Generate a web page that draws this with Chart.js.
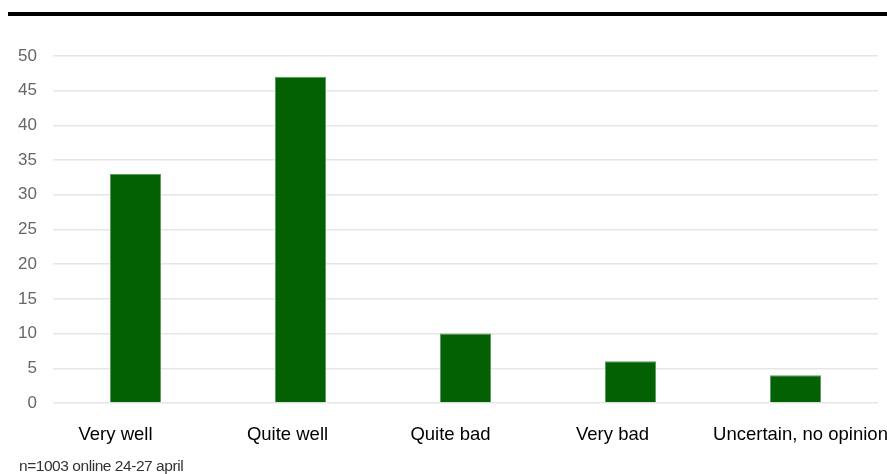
<!DOCTYPE html>
<html>
<head>
<meta charset="utf-8">
<script src="https://cdn.jsdelivr.net/npm/chart.js@4.4.1/dist/chart.umd.min.js"></script>
<style>
  html, body { margin: 0; padding: 0; background: #fff; }
  #wrap { position: relative; width: 887px; height: 474px; overflow: hidden; }
  #topRule { position: absolute; left: 8px; right: 0; top: 12px; height: 4px; background: #000; }
  #note { position: absolute; left: 19px; top: 457px; font: 15.5px "Liberation Sans", Arial, sans-serif; color: #333; letter-spacing: -0.45px; white-space: nowrap; }
  canvas { position: absolute; left: 0; top: 0; }
</style>
</head>
<body>
<div id="wrap">
  <div id="topRule"></div>
  <canvas id="grafico" width="887" height="474"></canvas>
  <div id="note">n=1003 online 24-27 april</div>
</div>
<script>
// Respuestas y porcentajes
const categories = ["Very well", "Quite well", "Quite bad", "Very bad", "Uncertain, no opinion"];
const values = [33, 47, 10, 6, 4];
const yTicks = [0, 5, 10, 15, 20, 25, 30, 35, 40, 45, 50];

// desplazamiento horizontal de cada etiqueta del eje x
const labelShift = [-20, -13, -15, -18, 5];

const xLabels = {
  id: "xLabels",
  afterDraw(chart) {
    const c = chart.ctx;
    const x = chart.scales.x;
    c.save();
    c.font = "18.5px 'Liberation Sans', Arial, sans-serif";
    c.fillStyle = "#000";
    c.textAlign = "center";
    c.textBaseline = "middle";
    categories.forEach((lbl, i) => {
      c.fillText(lbl, x.getPixelForValue(i) + labelShift[i], 435);
    });
    c.restore();
  }
};

const ctx = document.getElementById("grafico").getContext("2d");

new Chart(ctx, {
  type: "bar",
  data: {
    labels: categories,
    datasets: [{
      data: values,
      backgroundColor: "#036003",
      borderColor: "#5a9a5a",
      borderWidth: 1,
      barPercentage: 0.31,
      categoryPercentage: 1
    }]
  },
  options: {
    responsive: false,
    animation: false,
    layout: { padding: { top: 56, right: 9, bottom: 0, left: 0 } },
    plugins: { legend: { display: false }, tooltip: { enabled: false } },
    scales: {
      x: {
        grid: { display: false },
        border: { display: false },
        ticks: { display: false },
        afterFit: (axis) => { axis.height = 71; axis.paddingLeft = 0; axis.paddingRight = 0; }
      },
      y: {
        min: 0,
        max: 50,
        afterBuildTicks: (axis) => { axis.ticks = yTicks.map(v => ({ value: v })); },
        grid: { color: "#e6e6e6", lineWidth: 1.5, drawTicks: false },
        border: { display: false },
        ticks: {
          color: "#666",
          font: { family: "Liberation Sans, Arial, sans-serif", size: 17 },
          padding: 16
        },
        afterFit: (axis) => { axis.width = 53; }
      }
    }
  },
  plugins: [xLabels]
});
</script>
</body>
</html>
